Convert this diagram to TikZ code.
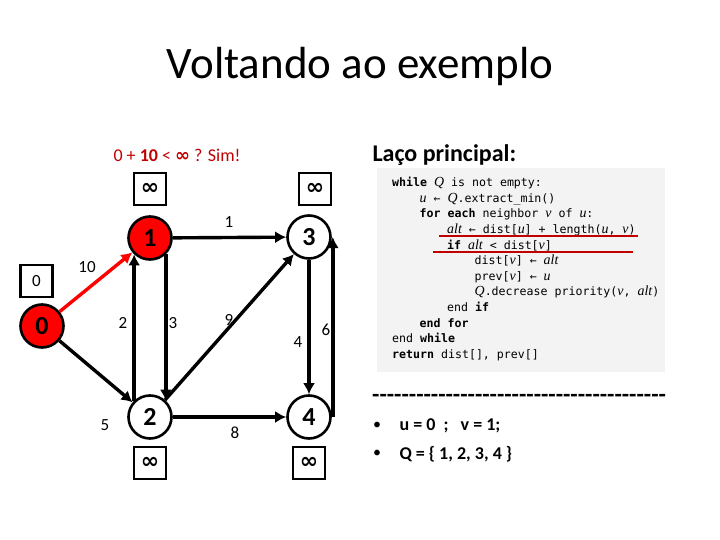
\documentclass[tikz,border=0pt]{standalone}
\usepackage{fontspec}
\setmainfont{Carlito}
\setmonofont{DejaVu Sans Mono}
\newfontfamily\symfont{DejaVu Sans}
\newfontfamily\varfont[Scale=1.2]{Liberation Serif}
\usetikzlibrary{arrows.meta}

\definecolor{darkred}{RGB}{192,0,0}
\definecolor{codebg}{RGB}{243,243,243}
\newcommand{\ind}{\hspace*{27.5pt}}
\newcommand{\infsym}{{\symfont\bfseries ∞}}
\newcommand{\var}[1]{{\varfont\itshape #1}}

\begin{document}
\begin{tikzpicture}[x=1pt, y=-1pt,
        vertex/.style={circle, draw, line width=2.6pt, minimum size=43pt, inner sep=0pt, font=\fontsize{26}{26}\selectfont\bfseries},
        visited/.style={vertex, fill=red},
        distbox/.style={draw, line width=2.6pt, minimum size=32pt, inner sep=0pt},
        edge/.style={line width=3.4pt, -{Latex[length=11pt, width=12pt]}},
        weight/.style={font=\fontsize{17}{17}\selectfont}]
        \useasboundingbox (0,0) rectangle (720,540);

        % title
        \node (title) at (360,67) {\fontsize{45}{45}\selectfont Voltando ao exemplo};

        % draw vertices
        \node[visited] (n0) at (42,326) {0};
        \node[visited] (n1) at (150,238) {1};
        \node[vertex] (n2) at (150,417) {2};
        \node[vertex] (n3) at (309,237) {3};
        \node[vertex] (n4) at (309,417) {4};

        % draw distance boxes
        \node[distbox, font=\fontsize{17}{17}\selectfont] (d0) at (36.5,281) {0};
        \node[distbox, font=\fontsize{22}{22}\selectfont] (d1) at (150,189) {\infsym};
        \node[distbox, font=\fontsize{22}{22}\selectfont] (d3) at (315,189) {\infsym};
        \node[distbox, font=\fontsize{22}{22}\selectfont] (d2) at (150,463) {\infsym};
        \node[distbox, font=\fontsize{22}{22}\selectfont] (d4) at (309,463) {\infsym};

        % draw edges
        \draw[edge, red] (n0) -- (n1);
        \draw[edge] (n0) -- (n2);
        \draw[edge] (n1) -- (n3);
        \draw[edge] (n1.314) -- (n2.46);
        \draw[edge] (n2.134) -- (n1.226);
        \draw[edge] (n2) -- (n3);
        \draw[edge] (n2) -- (n4);
        \draw[edge] (n3) -- (n4);
        \draw[edge] ([xshift=1pt]n4.east) -- ([xshift=1pt]n3.east);

        % draw weights
        \node[weight] (w01) at (87,267) {10};
        \node[weight] (w02) at (105,425) {5};
        \node[weight] (w13) at (229,222) {1};
        \node[weight] (w21) at (123,323) {2};
        \node[weight] (w12) at (173,323) {3};
        \node[weight] (w23) at (229,320) {9};
        \node[weight] (w24) at (235,433) {8};
        \node[weight] (w34) at (298,342) {4};
        \node[weight] (w43) at (326,330) {6};

        % comparison
        \node[anchor=west, text=darkred, font=\fontsize{18}{18}\selectfont] (test) at (110,155) {0 + \textbf{10} < \infsym{} ? Sim!};

        % main loop
        \node[anchor=west, font=\fontsize{24}{24}\selectfont\bfseries] (loop) at (369,155) {Laço principal:};
        \fill[codebg] (377,168) rectangle (665,372);
        \node[anchor=north west, align=left, inner sep=0pt, font=\ttfamily\fontsize{11.6}{15.6}\selectfont] (code) at (392,177) {%
            \textbf{while} \var{Q} is not empty:\\
            \ind\var{u} ← \var{Q}.extract\_min()\\
            \ind\textbf{for each} neighbor \var{v} of \var{u}:\\
            \ind\ind\var{alt} ← dist[\var{u}] + length(\var{u}, \var{v})\\
            \ind\ind\textbf{if} \var{alt} < dist[\var{v}]\\
            \ind\ind\ind dist[\var{v}] ← \var{alt}\\
            \ind\ind\ind prev[\var{v}] ← \var{u}\\
            \ind\ind\ind\var{Q}.decrease priority(\var{v}, \var{alt})\\
            \ind\ind end \textbf{if}\\
            \ind\textbf{end for}\\
            end \textbf{while}\\
            \textbf{return} dist[], prev[]};
        \draw[darkred, line width=2.2pt] (439,236) -- (638,236);
        \draw[darkred, line width=2.2pt] (433,252) -- (633,252);

        % current state
        \node[anchor=west, inner sep=0pt, font=\fontsize{24}{24}\selectfont\bfseries\addfontfeature{Ligatures=TeXOff}] (sep) at (372,398) {----------------------------------------};
        \node[font=\fontsize{16}{16}\selectfont] (b1) at (377,426) {•};
        \node[font=\fontsize{16}{16}\selectfont] (b2) at (377,454) {•};
        \node[anchor=west, font=\fontsize{18}{18}\selectfont\bfseries] (uv) at (396,426) {u = 0 \ ; \ \ v = 1;};
        \node[anchor=west, font=\fontsize{18}{18}\selectfont\bfseries] (q) at (396,454) {Q = \{ 1, 2, 3, 4 \}};
    \end{tikzpicture}
\end{document}
